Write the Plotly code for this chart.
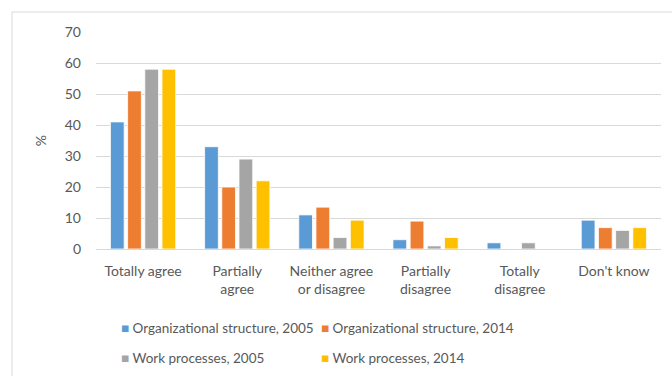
import plotly.graph_objects as go

categories = ["Totally agree", "Partially<br>agree", "Neither agree<br>or disagree",
              "Partially<br>disagree", "Totally<br>disagree", "Don't know"]
series_names = ["Organizational structure, 2005", "Organizational structure, 2014",
                "Work processes, 2005", "Work processes, 2014"]
org_2005 = [41, 33, 11, 3, 2, 9.3]
org_2014 = [51, 20, 13.5, 9, 0, 6.9]
work_2005 = [58, 29, 3.7, 1, 2, 6]
work_2014 = [58, 22, 9.3, 3.7, 0, 6.9]
colors = ["#5B9BD5", "#ED7D31", "#A5A5A5", "#FFC000"]
y_ticks = [0, 10, 20, 30, 40, 50, 60, 70]
legend_ids = ["legend", "legend2", "legend3", "legend4"]

fig = go.Figure()
for name, vals, col in zip(series_names, [org_2005, org_2014, work_2005, work_2014], colors):
    fig.add_trace(go.Bar(x=categories, y=vals, name=name, marker_color=col,
                         marker_line_color="white", marker_line_width=0.8,
                         legendgroup=name, showlegend=False))
# legend entries with small square keys like the original
for name, col, lg in zip(series_names, colors, legend_ids):
    fig.add_trace(go.Scatter(x=[None], y=[None], mode="markers",
                             name=f'<span style="color:{col}">■</span> {name}',
                             marker=dict(symbol="square", size=1, color="rgba(0,0,0,0)"),
                             legendgroup=name, legend=lg, showlegend=True))

font = dict(family="Lato, 'Open Sans', sans-serif", size=14, color="#595959")
leg_font = dict(family="Lato, 'Open Sans', sans-serif", size=13.5, color="#595959")


def leg(xpx, ypx):
    return dict(orientation="h", xref="container", yref="container",
                x=(xpx - 40) / 672, y=1 - ypx / 376, xanchor="left", yanchor="middle",
                itemwidth=30, font=leg_font, bgcolor="rgba(0,0,0,0)",
                borderwidth=0)


fig.update_layout(
    width=672, height=376,
    margin=dict(l=96, r=11, t=32, b=127),
    paper_bgcolor="white", plot_bgcolor="white",
    font=font,
    barmode="group", bargap=0.27, bargroupgap=0.2,
    showlegend=True,
    legend=leg(121, 328), legend2=leg(321, 328),
    legend3=leg(121, 358), legend4=leg(321, 358),
    yaxis=dict(range=[0, 70], tickvals=y_ticks, showgrid=True, gridcolor="#D9D9D9",
               gridwidth=1, zeroline=False, showline=False, ticks="",
               ticklabelstandoff=14,
               title=dict(text="%", standoff=14, font=font)),
    xaxis=dict(showline=True, linecolor="#D9D9D9", linewidth=1, ticks="",
               ticklabelstandoff=9, tickfont=font),
    shapes=[dict(type="rect", xref="paper", yref="paper",
                 x0=-84 / 565, x1=1.05, y0=-0.7, y1=1 + 20 / 217,
                 line=dict(color="#D9D9D9", width=1), fillcolor="rgba(0,0,0,0)", layer="below")],
)
fig.write_html("out.html")
